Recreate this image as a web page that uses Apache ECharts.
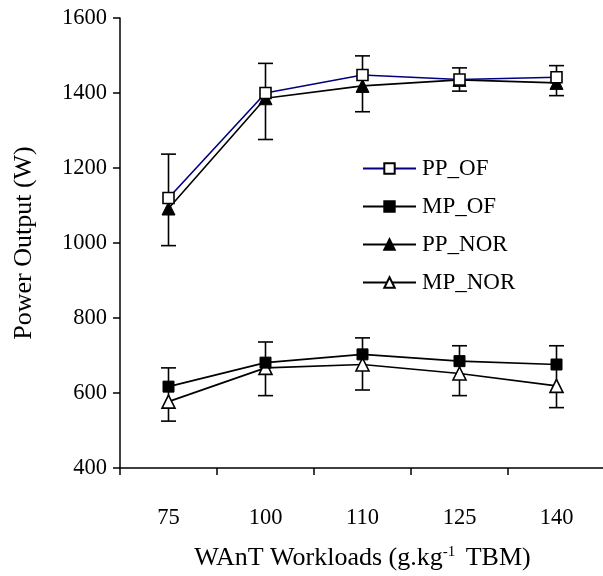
<!DOCTYPE html>
<html><head><meta charset="utf-8">
<script src="https://cdn.jsdelivr.net/npm/echarts@6/dist/echarts.min.js"></script>
<style>html,body{margin:0;padding:0;background:#fff}#c{width:603px;height:576px}</style>
</head><body><div id="c"></div>
<script>
const categories = ['75', '100', '110', '125', '140'];
const ppOF  = [1120, 1400, 1448, 1436, 1442];
const mpOF  = [617, 681, 703, 685, 676];
const ppNOR = [1092, 1386, 1419, 1435, 1427];
const mpNOR = [577, 667, 676, 652, 619];
const errPPLow  = [993, 1276, 1350, 1405, 1393];
const errPPHigh = [1237, 1479, 1499, 1467, 1473];
const errMPLow  = [525, 593, 608, 593, 561];
const errMPHigh = [667, 736, 747, 726, 726];
const yTicks = [400, 600, 800, 1000, 1200, 1400, 1600];

const font = 'Liberation Serif';
const errData = [];
categories.forEach((c, i) => {
  errData.push([i, errPPLow[i], errPPHigh[i]]);
  errData.push([i, errMPLow[i], errMPHigh[i]]);
});

function renderErr(params, api) {
  const x = api.value(0);
  const lo = api.coord([x, api.value(1)]);
  const hi = api.coord([x, api.value(2)]);
  const hw = 7.5;
  const st = { stroke: '#000', lineWidth: 1.6, fill: null };
  return {
    type: 'group',
    children: [
      { type: 'line', shape: { x1: lo[0], y1: lo[1], x2: hi[0], y2: hi[1] }, style: st },
      { type: 'line', shape: { x1: lo[0] - hw, y1: lo[1], x2: lo[0] + hw, y2: lo[1] }, style: st },
      { type: 'line', shape: { x1: hi[0] - hw, y1: hi[1], x2: hi[0] + hw, y2: hi[1] }, style: st }
    ]
  };
}

const chart = echarts.init(document.getElementById('c'));
chart.setOption({
  animation: false,
  backgroundColor: '#fff',
  textStyle: { fontFamily: font, color: '#000' },
  grid: { left: 120, right: -2, top: 18, bottom: 108, containLabel: false, outerBoundsMode: 'none' },
  legend: {
    orient: 'vertical', left: 362, top: 157, padding: 0,
    itemWidth: 53, itemHeight: 13, itemGap: 15,
    textStyle: { fontFamily: font, fontSize: 23, color: '#000', padding: [0, 0, 0, 1] },
    data: ['PP_OF', 'MP_OF', 'PP_NOR', 'MP_NOR']
  },
  xAxis: {
    type: 'category', data: categories, boundaryGap: true,
    axisLine: { lineStyle: { color: '#000', width: 1.5 } },
    axisTick: { show: true, length: 7, inside: false, lineStyle: { color: '#000', width: 1.5 } },
    axisLabel: { margin: 39, fontFamily: font, fontSize: 22.5, color: '#000' },
    name: 'WAnT Workloads (g.kg{sup|-1} TBM)',
    nameLocation: 'middle', nameGap: 77,
    nameTextStyle: {
      fontFamily: font, fontSize: 26, color: '#000',
      rich: { sup: { fontFamily: font, fontSize: 15, color: '#000', padding: [0, 4, 12, 0] } }
    }
  },
  yAxis: {
    type: 'value', min: 400, max: 1600, interval: 200,
    splitLine: { show: false },
    axisLine: { show: true, lineStyle: { color: '#000', width: 1.5 } },
    axisTick: { show: true, length: 7, lineStyle: { color: '#000', width: 1.5 } },
    axisLabel: { margin: 13, fontFamily: font, fontSize: 22.5, color: '#000',
      formatter: v => yTicks.includes(v) ? String(v) : '' },
    name: 'Power Output (W)', nameLocation: 'middle', nameGap: 83,
    nameTextStyle: { fontFamily: font, fontSize: 26, color: '#000' }
  },
  series: [
    { type: 'custom', name: 'err', renderItem: renderErr, data: errData, z: 1,
      encode: { x: 0, y: [1, 2] }, silent: true },
    { type: 'line', name: 'PP_OF', data: ppOF, z: 3,
      symbol: 'rect', symbolSize: 11, showAllSymbol: true,
      lineStyle: { color: '#000080', width: 1.6 },
      itemStyle: { color: '#fff', borderColor: '#000', borderWidth: 1.6 } },
    { type: 'line', name: 'MP_OF', data: mpOF, z: 3,
      symbol: 'rect', symbolSize: 11,
      lineStyle: { color: '#000', width: 1.6 },
      itemStyle: { color: '#000', borderColor: '#000', borderWidth: 1 } },
    { type: 'line', name: 'PP_NOR', data: ppNOR, z: 2,
      symbol: 'triangle', symbolSize: 13,
      lineStyle: { color: '#000', width: 1.6 },
      itemStyle: { color: '#000', borderColor: '#000', borderWidth: 1 } },
    { type: 'line', name: 'MP_NOR', data: mpNOR, z: 2,
      symbol: 'triangle', symbolSize: 13,
      lineStyle: { color: '#000', width: 1.6 },
      itemStyle: { color: '#fff', borderColor: '#000', borderWidth: 1.6 } }
  ]
});
</script></body></html>
